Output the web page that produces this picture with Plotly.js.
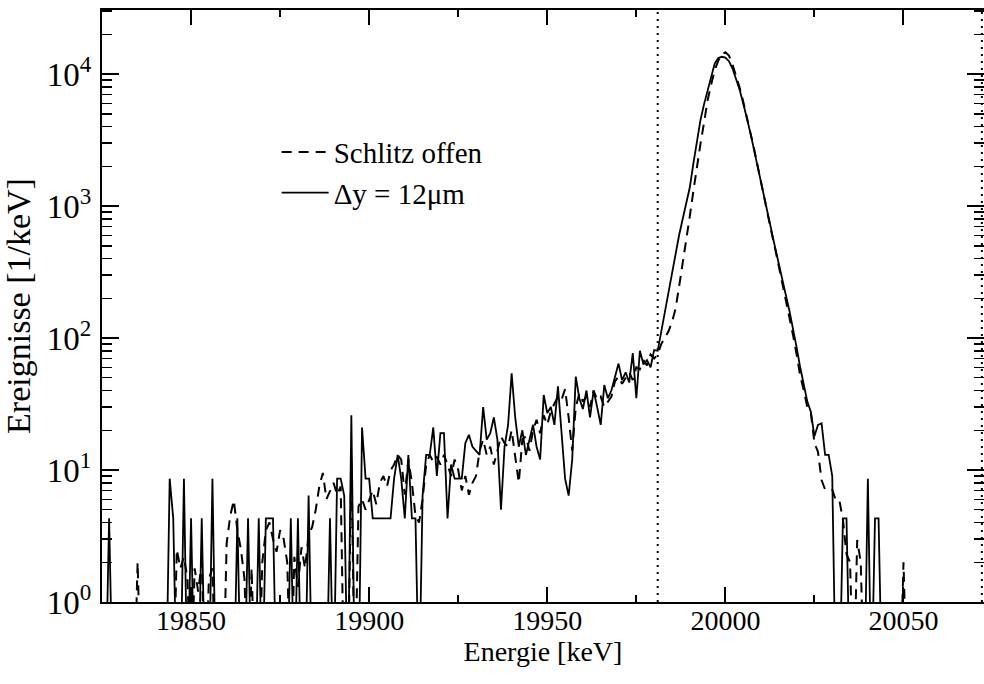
<!DOCTYPE html>
<html>
<head>
<meta charset="utf-8">
<script src="https://cdn.plot.ly/plotly-3.0.1.min.js"></script>
<style>
html,body{margin:0;padding:0;background:#ffffff;}
#chart{width:984px;height:684px;}
#chart svg text{font-family:"Liberation Serif","Times New Roman",serif !important;}
</style>
</head>
<body>
<div id="chart"></div>
<script>
// Energy bins [keV]
const energy = [
19825,19826,19827,19828,19829,19830,19831,19832,19833,19834,
19835,19836,19837,19838,19839,19840,19841,19842,19843,19844,
19845,19846,19847,19848,19849,19850,19851,19852,19853,19854,
19855,19856,19857,19858,19859,19860,19861,19862,19863,19864,
19865,19866,19867,19868,19869,19870,19871,19872,19873,19874,
19875,19876,19877,19878,19879,19880,19881,19882,19883,19884,
19885,19886,19887,19888,19889,19890,19891,19892,19893,19894,
19895,19896,19897,19898,19899,19900,19901,19902,19903,19904,
19905,19906,19907,19908,19909,19910,19911,19912,19913,19914,
19915,19916,19917,19918,19919,19920,19921,19922,19923,19924,
19925,19926,19927,19928,19929,19930,19931,19932,19933,19934,
19935,19936,19937,19938,19939,19940,19941,19942,19943,19944,
19945,19946,19947,19948,19949,19950,19951,19952,19953,19954,
19955,19956,19957,19958,19959,19960,19961,19962,19963,19964,
19965,19966,19967,19968,19969,19970,19971,19972,19973,19974,
19975,19976,19977,19978,19979,19980,19981,19982,19983,19984,
19985,19986,19987,19988,19989,19990,19991,19992,19993,19994,
19995,19996,19997,19998,19999,20000,20001,20002,20003,20004,
20005,20006,20007,20008,20009,20010,20011,20012,20013,20014,
20015,20016,20017,20018,20019,20020,20021,20022,20023,20024,
20025,20026,20027,20028,20029,20030,20031,20032,20033,20034,
20035,20036,20037,20038,20039,20040,20041,20042,20043,20044,
20045,20046,20047,20048,20049,20050,20051,20052,20053,20054,
20055
];

// "Schlitz offen" (dashed) [1/keV]
const schlitzOffen = [
0,0,0,0,0,0,0,0,0,0,
2.0,0,0,0,0,0,0,0,0,0,
0,2.5,1.8,2.2,1.5,0,1.8,1.2,2.0,0,
1.5,1.8,0,0,0,2.8,4.5,5.9,3.5,2.5,
1.5,0,1.8,0,0,2.0,3.5,4.0,3.0,2.4,
3.5,3.0,2.0,0,2.2,1.3,2.6,1.8,3.2,3.7,
5.0,7.5,9.5,6.0,7.0,8.0,6.5,7.5,0,0,
12,0,5.3,6,5,6,7,5.5,8,9,
7.5,9.9,11,13,12,6.5,12,8,4.5,4.0,
6,11,13,11.5,12.5,11,13,11,9,12,
10,7,9,6.5,8,9,14,17,13,15,
11,14,18,16,15,20,13,8,17,18,
14,20,24,19,26,22,28,32,36,34,
41,25,14,30,38,33,36,30,40,34,
36,30,33,36,47,51,45,50,55,48,
60,58,68,62,75,70,75,90,100,112,
132,166,245,363,537,832,1290,1995,2950,4270,
6310,8320,10700,12600,14100,14600,13800,11800,9800,7900,
6200,4800,3700,2750,2050,1500,1120,830,620,470,
350,270,200,150,105,75,52,40,30,27,
16,13.7,8.4,7.1,7.1,7.1,5.9,5.9,4.2,2.3,
2,0,2.95,2,0,0,0,0,0,0,
0,0,0,0,0,2,0,0,0,0,
0
];

// "Δy = 12μm" (solid) [1/keV]
const slit12um = [
0,0,4.3,0,0,0,0,0,0,0,
0,0,0,0,0,0,0,0,0,8.6,
4.3,0,0,8.6,0,4.3,0,0,4.3,0,
0,8.6,0,0,0,0,0,0,4.3,0,
0,4.3,0,0,4.3,0,4.3,4.3,4.3,0,
0,0,0,4.3,0,4.3,0,0,6.4,0,
0,0,0,0,4.3,0,8.6,8.6,6.4,0,
26,0,0,21,8.6,8.6,4.3,4.3,4.3,4.3,
4.3,4.3,8.6,13,8.6,4.3,13,4.3,4.3,0,
6.4,13,13,21,9,19,19,4.3,11,8.6,
8.6,8.6,16,18.5,15,14,13,30,17,19,
25,17,5,15,22,54,25,15,20,13,
17,22,15,12,37,27,30,22,43,20,
8.6,6.4,12,51,35,29,40,25,40,30,
22,44,35,40,50,64,48,55,46,77,
35,80,63,68,60,81,80,112,160,230,
316,447,600,794,1050,1380,2090,3090,4470,5890,
7590,9770,12000,13200,13500,13300,12500,11000,9300,7600,
6000,4700,3600,2700,2000,1500,1120,850,640,480,
370,280,210,160,120,85,60,44,33,27.5,
18,22,22.6,13,13,9,0,0,4.3,4.3,
0,0,0,0,0,8.6,0,4.3,4.3,0,
0,0,0,0,0,0,0,0,0,0,
0
];

const seriesNames = ['Schlitz offen', 'Δy = 12μm'];
const markerEnergies = [19981, 20072];          // dotted vertical lines
const xTickVals = [19850, 19900, 19950, 20000, 20050];
const xTickText = ['19850', '19900', '19950', '20000', '20050'];
const xMinorVals = [19875, 19925, 19975, 20025];
const yTickVals = [1, 10, 100, 1000, 10000];
const yTickText = ['10<sup>0</sup>', '10<sup>1</sup>', '10<sup>2</sup>', '10<sup>3</sup>', '10<sup>4</sup>'];

// zero counts cannot be shown on a log axis: draw them at the axis floor (clipped)
const FLOOR = 0.2;
const toLog = arr => arr.map(v => (v > 0 ? v : FLOOR));

const yMinorVals = [];
for (let d = 1; d <= 10000; d *= 10) {
  for (let k = 2; k <= 9; k++) yMinorVals.push(k * d);
}

const FONT = 'Liberation Serif, Times New Roman, serif';

const traces = [
  {
    x: energy, y: toLog(schlitzOffen), name: seriesNames[0],
    type: 'scatter', mode: 'lines',
    line: {color: '#000', width: 2, dash: '10px,7px'}
  },
  {
    x: energy, y: toLog(slit12um), name: seriesNames[1],
    type: 'scatter', mode: 'lines',
    line: {color: '#000', width: 1.8}
  }
];

const shapes = markerEnergies.map(e => ({
  type: 'line', xref: 'x', yref: 'paper', x0: e, x1: e, y0: 0, y1: 1,
  line: {color: '#000', width: 2, dash: '2px,5px'}, layer: 'above'
}));

const layout = {
  width: 984, height: 684,
  margin: {l: 102, r: 0, t: 10, b: 82},
  paper_bgcolor: '#fff', plot_bgcolor: '#fff',
  font: {family: FONT, color: '#000', size: 28},
  showlegend: true,
  legend: {
    x: 0.198, y: 0.803, xanchor: 'left', yanchor: 'top',
    bgcolor: 'rgba(0,0,0,0)', borderwidth: 0, itemwidth: 47,
    font: {family: FONT, size: 29, color: '#000'}
  },
  xaxis: {
    range: [19825, 20072.6],
    tickmode: 'array', tickvals: xTickVals, ticktext: xTickText,
    ticks: 'inside', ticklen: 15, tickwidth: 2, tickcolor: '#000',
    ticklabelstandoff: -8,
    showline: true, linewidth: 2, linecolor: '#000', mirror: 'allticks',
    showgrid: false, zeroline: false,
    tickfont: {family: FONT, size: 28, color: '#000'},
    minor: {tickmode: 'array', tickvals: xMinorVals, ticks: 'inside', ticklen: 7, tickwidth: 2, tickcolor: '#000', showgrid: false},
    title: {text: 'Energie [keV]', font: {family: FONT, size: 28, color: '#000'}, standoff: 2}
  },
  yaxis: {
    type: 'log', range: [0, 4.485],
    tickmode: 'array', tickvals: yTickVals, ticktext: yTickText,
    ticks: 'inside', ticklen: 17, tickwidth: 2, tickcolor: '#000',
    ticklabelstandoff: 2,
    showline: true, linewidth: 2, linecolor: '#000', mirror: 'allticks',
    showgrid: false, zeroline: false,
    tickfont: {family: FONT, size: 33, color: '#000'},
    minor: {tickmode: 'array', tickvals: yMinorVals, ticks: 'inside', ticklen: 10, tickwidth: 1.5, tickcolor: '#000', showgrid: false},
    title: {text: 'Ereignisse [1/keV]', font: {family: FONT, size: 34, color: '#000'}, standoff: 6}
  },
  shapes: shapes
};

Plotly.newPlot('chart', traces, layout, {displayModeBar: false, staticPlot: true});
</script>
</body>
</html>
